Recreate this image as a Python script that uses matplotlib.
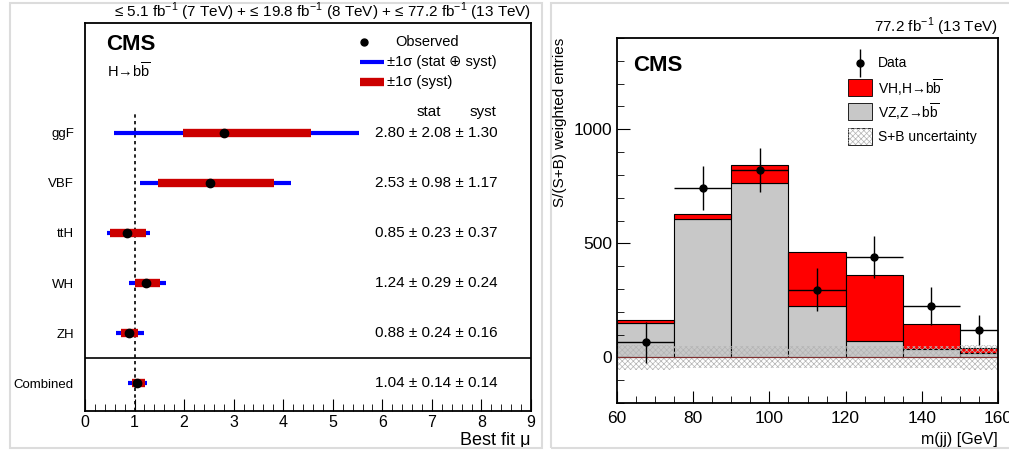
import numpy as np
import matplotlib.pyplot as plt
from matplotlib.patches import Rectangle
from matplotlib.ticker import MultipleLocator

plt.rcParams['font.family'] = ['Liberation Sans', 'DejaVu Sans']
plt.rcParams['mathtext.fontset'] = 'custom'
plt.rcParams['mathtext.rm'] = 'Liberation Sans'
plt.rcParams['hatch.linewidth'] = 0.5

# left panel: signal strengths per production mode
cats = ['ggF', 'VBF', 'ttH', 'WH', 'ZH', 'Combined']
mu = [2.80, 2.53, 0.85, 1.24, 0.88, 1.04]
stat = [2.08, 0.98, 0.23, 0.29, 0.24, 0.14]
syst = [1.30, 1.17, 0.37, 0.24, 0.16, 0.14]
tot_lo = [0.58, 1.11, 0.45, 0.89, 0.62, 0.87]
tot_hi = [5.52, 4.15, 1.31, 1.64, 1.19, 1.26]
syst_lo = [1.97, 1.48, 0.51, 1.01, 0.73, 0.95]
syst_hi = [4.57, 3.82, 1.24, 1.51, 1.07, 1.21]

# right panel: weighted m(jj) distribution
edges = [60, 75, 90, 105, 120, 135, 150, 160]
vz = [152, 605, 764, 227, 73, 36, 19]
vh = [10, 25, 79, 234, 290, 111, 20]
unc = [56, 48, 48, 48, 48, 48, 54]
data_x = [67.5, 82.5, 97.5, 112.5, 127.5, 142.5, 155.0]
data_y = [66, 743, 821, 297, 440, 224, 121]
data_err = [89, 96, 98, 93, 93, 84, 66]

fig = plt.figure(figsize=(10.09, 4.51), dpi=100)

# paper-like cards
fig.patches.append(Rectangle((10 / 1009, 3 / 451), 532 / 1009, 445 / 451, transform=fig.transFigure,
                             facecolor='none', edgecolor='#dcdcdc', lw=1.5))
fig.patches.append(Rectangle((551 / 1009, 3 / 451), 470 / 1009, 445 / 451, transform=fig.transFigure,
                             facecolor='none', edgecolor='#dcdcdc', lw=1.5))

# ---------------- left panel ----------------
ax = fig.add_axes([85 / 1009, 40 / 451, 446 / 1009, 388 / 451])
ypos = [0.56 + i for i in range(len(cats))][::-1]
ax.set_xlim(0, 9)
ax.set_ylim(0, 7.76)

ax.vlines(1, 0, 6.0, color='black', linestyles=(0, (2, 2)), lw=1.2)
ax.axhline(1.06, color='black', lw=1.2)

for i in range(len(cats)):
    y = ypos[i]
    ax.plot([tot_lo[i], tot_hi[i]], [y, y], color='#0000ff', lw=3, solid_capstyle='butt')
    ax.plot([syst_lo[i], syst_hi[i]], [y, y], color='#cc0000', lw=6, solid_capstyle='butt')
    ax.plot(mu[i], y, 'o', color='black', ms=6)
    ax.text(8.33, y, f'{mu[i]:.2f} ± {stat[i]:.2f} ± {syst[i]:.2f}',
            ha='right', va='center', fontsize=11)

ax.text(6.94, 5.98, 'stat', ha='center', va='center', fontsize=11)
ax.text(8.04, 5.98, 'syst', ha='center', va='center', fontsize=11)

ax.text(0.42, 7.32, 'CMS', fontsize=16, fontweight='bold', va='center')
ax.text(0.44, 6.8, r'H→b$\overline{\rm b}$', fontsize=10.5, va='center')

ax.plot(5.62, 7.38, 'o', color='black', ms=5)
ax.text(6.27, 7.38, 'Observed', fontsize=10.5, va='center')
ax.plot([5.55, 6.03], [6.98, 6.98], color='#0000ff', lw=3, solid_capstyle='butt')
ax.text(6.1, 6.98, '±1σ (stat ⊕ syst)', fontsize=10.5, va='center')
ax.plot([5.55, 6.03], [6.58, 6.58], color='#cc0000', lw=6, solid_capstyle='butt')
ax.text(6.1, 6.58, '±1σ (syst)', fontsize=10.5, va='center')

ax.set_yticks(ypos, cats)
ax.tick_params(axis='y', length=0, pad=8, labelsize=9.5)
ax.xaxis.set_major_locator(MultipleLocator(1))
ax.xaxis.set_minor_locator(MultipleLocator(0.2))
ax.tick_params(axis='x', which='major', direction='in', length=9, labelsize=11.5, pad=3)
ax.tick_params(axis='x', which='minor', direction='in', length=5)
for s in ax.spines.values():
    s.set_linewidth(1.3)
ax.set_xlabel('Best fit μ', loc='right', fontsize=13, labelpad=1)
fig.text(531 / 1009, 1 - 12 / 451,
         '≤ 5.1 fb$^{-1}$ (7 TeV) + ≤ 19.8 fb$^{-1}$ (8 TeV) + ≤ 77.2 fb$^{-1}$ (13 TeV)',
         ha='right', va='center', fontsize=11)

# ---------------- right panel ----------------
ax2 = fig.add_axes([617 / 1009, 48 / 451, 381 / 1009, 365 / 451])
left = np.array(edges[:-1])
widths = np.diff(edges)
ax2.bar(left, vz, width=widths, align='edge', color='#c8c8c8', edgecolor='black', lw=0.8)
ax2.bar(left, vh, width=widths, bottom=vz, align='edge', color='#ff0000', edgecolor='black', lw=0.8)
ax2.bar(left, 2 * np.array(unc), width=widths, bottom=-np.array(unc), align='edge',
        fill=False, hatch='xxxxxx', edgecolor='#b4b4b4', lw=0)
ax2.axhline(0, color='#803030', lw=0.8)
ax2.errorbar(data_x, data_y, xerr=widths / 2, yerr=data_err, fmt='o', color='black',
             ms=5, elinewidth=1, capsize=0)

ax2.set_xlim(60, 160)
ax2.set_ylim(-200, 1400)
ax2.xaxis.set_major_locator(MultipleLocator(20))
ax2.xaxis.set_minor_locator(MultipleLocator(5))
ax2.yaxis.set_major_locator(MultipleLocator(500))
ax2.yaxis.set_minor_locator(MultipleLocator(100))
ax2.tick_params(which='major', direction='in', length=9, labelsize=12.5)
ax2.tick_params(which='minor', direction='in', length=5)
ax2.tick_params(axis='x', pad=6)
for s in ax2.spines.values():
    s.set_linewidth(1.3)
ax2.set_xlabel('m(jj) [GeV]', loc='right', fontsize=11.5, labelpad=4)
ax2.set_ylabel('S/(S+B) weighted entries', loc='top', fontsize=11)
ax2.yaxis.set_label_coords(-0.13, 1.0)

ax2.text(64.2, 1280, 'CMS', fontsize=16, fontweight='bold', va='center')
ax2.errorbar([123.9], [1290], yerr=[60], fmt='o', color='black', ms=5, elinewidth=1, capsize=0)
ax2.text(128.6, 1290, 'Data', fontsize=10, va='center')
leg_boxes = [('#ff0000', None, r'VH,H→b$\overline{\rm b}$', 1145),
             ('#c8c8c8', None, r'VZ,Z→b$\overline{\rm b}$', 1039),
             ('white', 'xxxxxx', 'S+B uncertainty', 930)]
for col, hatch, lab, yb in leg_boxes:
    ax2.add_patch(Rectangle((120.7, yb), 6.3, 74, facecolor=col, edgecolor='black', lw=0.6))
    if hatch:
        ax2.add_patch(Rectangle((120.7, yb), 6.3, 74, fill=False, hatch=hatch, edgecolor='#b4b4b4', lw=0))
    ax2.text(128.6, yb + 37, lab, fontsize=10, va='center')

fig.text(998 / 1009, 1 - 27 / 451, '77.2 fb$^{-1}$ (13 TeV)', ha='right', va='center', fontsize=11)

fig.savefig('out.png', dpi=100)
